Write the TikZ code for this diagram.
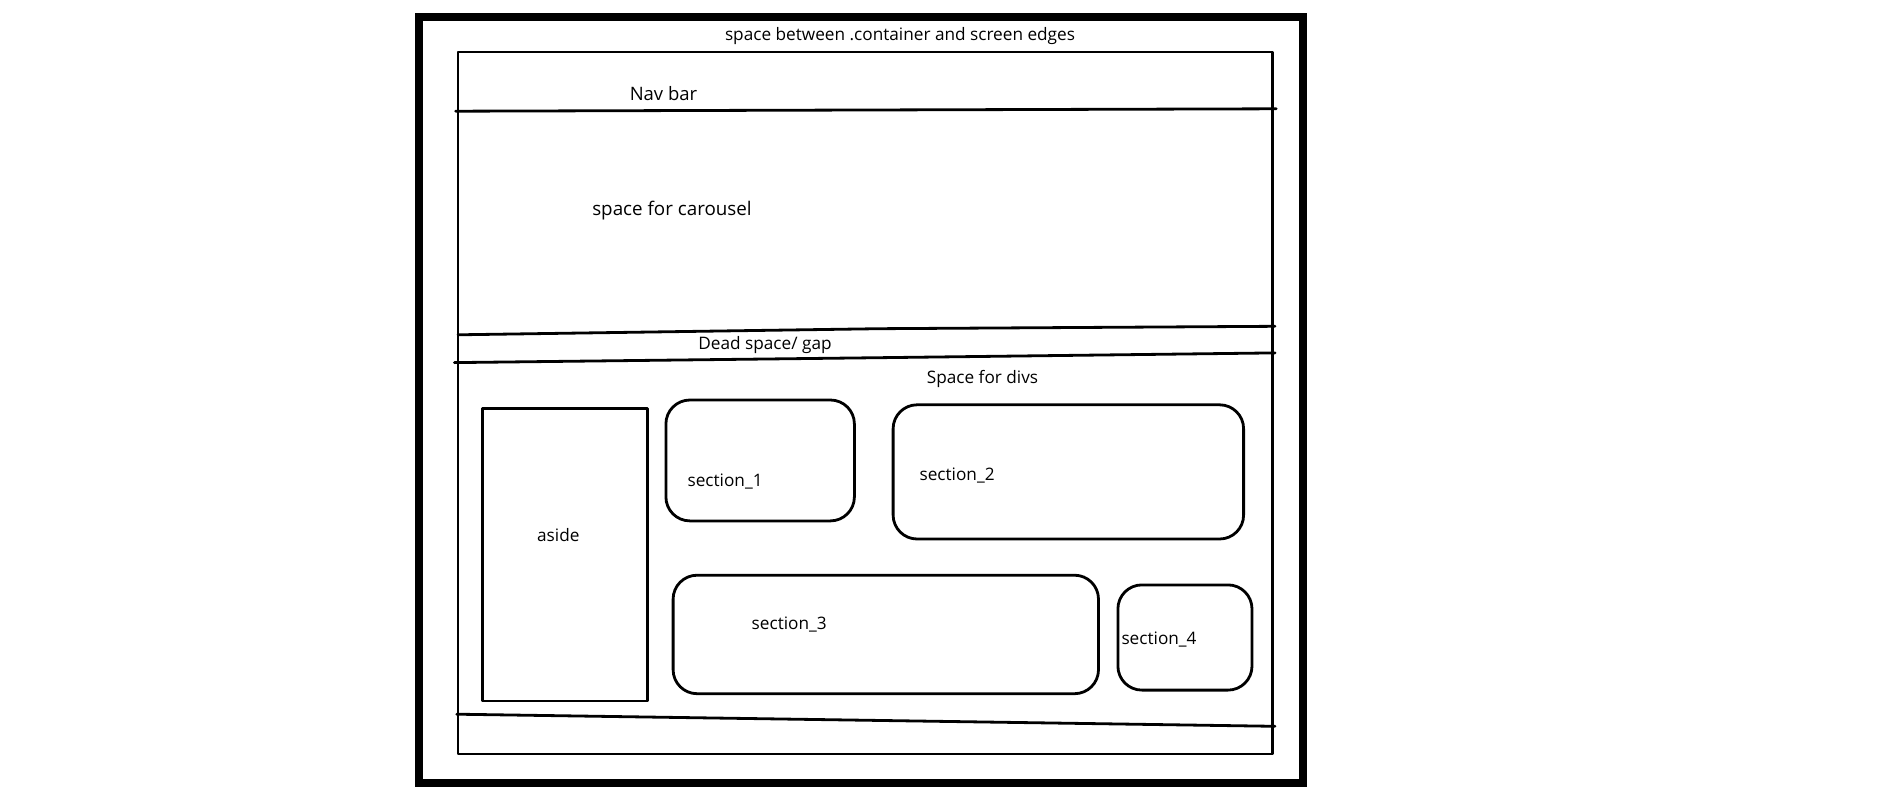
\documentclass[tikz,border=0pt]{standalone}
\usepackage{fontspec}
\setmainfont{Open Sans}
\begin{document}
\begin{tikzpicture}[x=1pt,y=-1pt,
  lbl/.style={font=\fontsize{17.2}{20}\selectfont, inner sep=0pt, text=black},
  thin/.style={line width=2.8pt, line cap=round, line join=round},
  boxr/.style={draw, line width=2.8pt, rounded corners=24pt}]
\useasboundingbox[fill=white] (0,0) rectangle (1895,800);
% outer screen
\draw[line width=8pt] (419,17) rectangle (1303,783);
% container
\draw[thin] (458,52) rectangle (1272.6,754);
\node[lbl] (t0) at (900,36.5) {space between .container and screen edges};
% nav bar
\draw[thin] (455.6,111.2) -- (1276.2,108.8);
\node[lbl, font=\fontsize{18.5}{22}\selectfont] (nav) at (663.5,93.5) {Nav bar};
\node[lbl, font=\fontsize{18.8}{22}\selectfont] (car) at (672,211) {space for carousel};
% dead space lines
\draw[thin] (458,334.8) -- (878.6,328.7) -- (1275,326.3);
\draw[thin] (454.4,362.6) -- (878.6,357.7) -- (1275,352.9);
\node[lbl] (dead) at (765,345) {Dead space/ gap};
\node[lbl] (divs) at (982.5,379) {Space for divs};
% aside
\draw[thin] (482.2,408.5) rectangle (647.8,700.9);
\node[lbl] (aside) at (558.3,535) {aside};
% sections
\draw[boxr] (665.9,400) rectangle (854.4,520.9);
\node[lbl] (s1) at (725.1,481.5) {section\_1};
\draw[boxr] (893.1,404.8) rectangle (1243.6,539);
\node[lbl] (s2) at (957.1,475.5) {section\_2};
\draw[boxr] (673.1,575.2) rectangle (1098.5,693.7);
\node[lbl] (s3) at (789.2,624.2) {section\_3};
\draw[boxr] (1117.9,584.9) rectangle (1252,690.1);
\node[lbl] (s4) at (1159,640) {section\_4};
% bottom line
\draw[thin] (456.8,714.2) -- (1275,726.3);
\end{tikzpicture}
\end{document}
